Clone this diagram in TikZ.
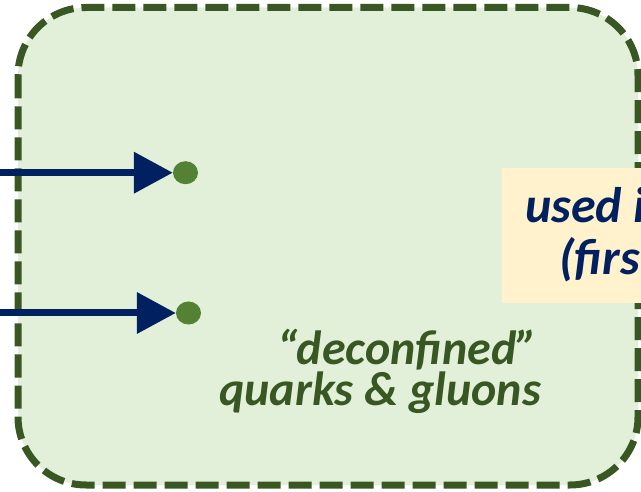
\documentclass[tikz,border=0pt]{standalone}
\usepackage{fontspec}
\setmainfont{Carlito}
\usetikzlibrary{arrows.meta,shapes.geometric}
\definecolor{bordergreen}{HTML}{385723}
\definecolor{fillgreen}{HTML}{E2F0D9}
\definecolor{dotgreen}{HTML}{548235}
\definecolor{navy}{HTML}{002060}
\definecolor{paleyellow}{HTML}{FFF2CC}
\tikzset{
  region/.style={draw=bordergreen, fill=fillgreen, line width=7pt, dash pattern=on 23pt off 8pt, rounded corners=68pt},
  dotnode/.style={ellipse, fill=dotgreen, minimum width=25pt, minimum height=23pt, inner sep=0pt},
  inarrow/.style={draw=navy, line width=7pt, -{Triangle[length=39pt,width=40pt]}},
  greentext/.style={text=bordergreen, font=\fontsize{48}{38}\selectfont\bfseries\itshape, inner sep=0pt, align=left},
  notetext/.style={text=navy, font=\fontsize{50}{50}\selectfont\bfseries\itshape, inner sep=0pt, anchor=base west},
  notebox/.style={fill=paleyellow, draw=none}
}
\begin{document}
\begin{tikzpicture}[x=1pt,y=-1pt]
\useasboundingbox (0,0) rectangle (641,492);
\clip (0,0) rectangle (641,492);
\draw[region] (18,7.5) rectangle (638,485);
\node[dotnode] (d1) at (185.5,172.7) {};
\node[dotnode] (d2) at (188.5,313) {};
\coordinate (s1) at (0,172.7);
\coordinate (s2) at (0,313);
\draw[inarrow] (s1) -- (d1.west);
\draw[inarrow] (s2) -- (d2.west);
\node[notebox, minimum width=160pt, minimum height=135pt, anchor=north west, inner sep=0pt] (nb) at (502,168) {};
\node[notetext] (n1) at (525,223) {used in};
\node[notetext] (n2) at (559,275) {(first};
\node[greentext, anchor=base west] (g) at (219,405) {\hspace*{58pt}“deconfined”\\quarks \& gluons};
\end{tikzpicture}
\end{document}
